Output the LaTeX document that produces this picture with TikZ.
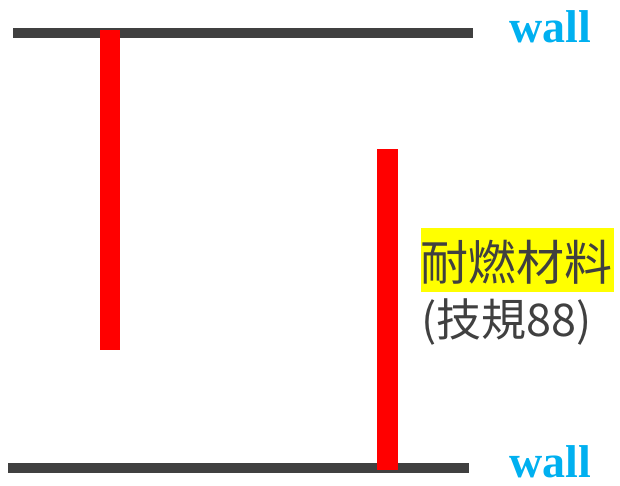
\documentclass[tikz,border=0pt]{standalone}
\usepackage{fontspec}
\newfontfamily\cjk{Noto Sans CJK TC}
\newfontfamily\wallfont{Liberation Serif}
\definecolor{wallgray}{HTML}{404040}
\definecolor{barred}{HTML}{FF0000}
\definecolor{wallblue}{HTML}{00B0F0}
\definecolor{hl}{HTML}{FFFF00}
\begin{document}
\begin{tikzpicture}[x=1pt,y=-1pt,
  wallline/.style={fill=wallgray},
  redbar/.style={fill=barred},
  walllabel/.style={font=\wallfont\bfseries\fontsize{46}{46}\selectfont, text=wallblue, inner sep=0pt, anchor=base west},
  cjktext/.style={text=wallgray, inner sep=0pt, anchor=base west}]
\useasboundingbox (0,0) rectangle (620,486);
% walls
\fill[wallline] (13,28) rectangle (473,38);
\fill[wallline] (8,463) rectangle (469,473);
% red bars
\fill[redbar] (100,30) rectangle (120,350);
\fill[redbar] (377,149) rectangle (398,470);
% labels
\node[walllabel] (w1) at (509,43) {wall};
\node[walllabel] (w2) at (509,477) {wall};
\fill[hl] (421,228) rectangle (614,292);
\node[cjktext, font=\cjk\fontsize{48}{48}\selectfont] (t1) at (420,280) {耐燃材料};
\node[cjktext, font=\cjk\fontsize{45}{45}\selectfont] (t2) at (421,336) {(技規88)};
\end{tikzpicture}
\end{document}
